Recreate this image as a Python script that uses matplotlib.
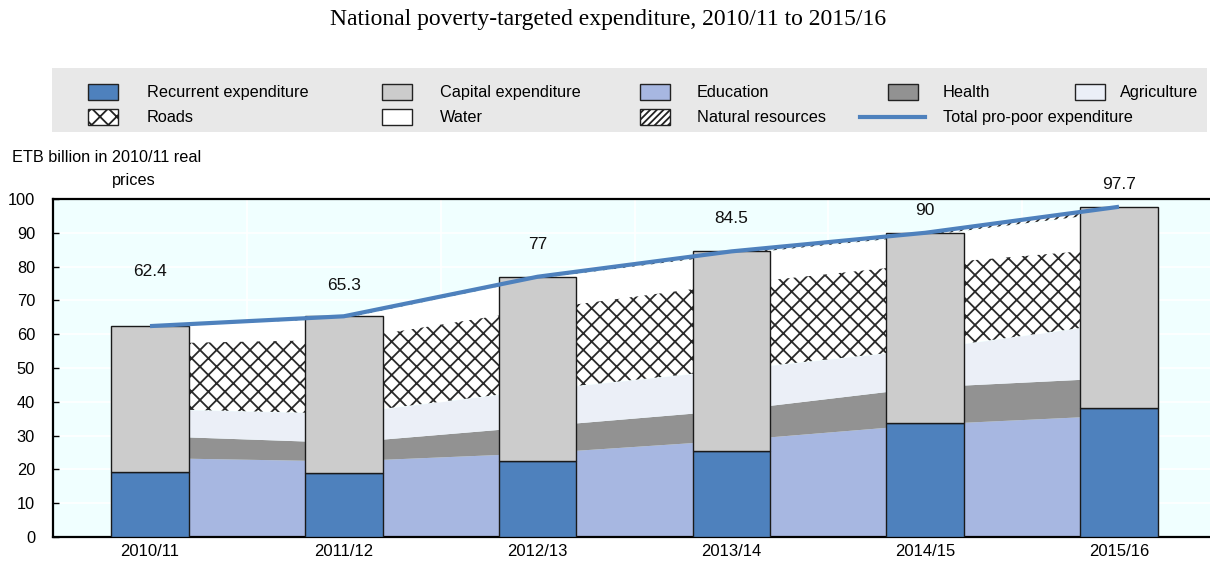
import matplotlib
matplotlib.use("Agg")
import matplotlib.pyplot as plt
import numpy as np
from matplotlib.patches import Rectangle
from matplotlib.lines import Line2D

plt.rcParams['font.family'] = ['Liberation Sans', 'DejaVu Sans']
plt.rcParams['hatch.linewidth'] = 1.3

# ---------------- data ----------------
years = ["2010/11", "2011/12", "2012/13", "2013/14", "2014/15", "2015/16"]
total = [62.4, 65.3, 77.0, 84.5, 90.0, 97.7]
recurrent = [19.2, 18.8, 22.6, 25.5, 33.8, 38.3]
capital = [t - r for t, r in zip(total, recurrent)]

education = [23.5, 22.5, 24.9, 28.7, 33.4, 36.1]
health = [6.5, 5.5, 7.9, 8.9, 11.0, 11.1]
agriculture = [7.9, 8.5, 10.7, 11.9, 11.2, 16.2]
roads = [19.5, 22.0, 24.0, 25.5, 25.3, 22.2]
natural_resources = [0.2, 0.6, 0.5, 0.9, 0.8, 1.5]
water = [t - e - h - a - r - n for t, e, h, a, r, n in
         zip(total, education, health, agriculture, roads, natural_resources)]

label_offsets_pt = [39.6, 22.3, 23.0, 23.8, 15.8, 15.8]

# ---------------- style ----------------
C_REC = '#4E81BD'
C_CAP = '#CCCCCC'
C_EDU = '#A7B7E1'
C_HEA = '#929292'
C_AGR = '#EBEFF7'
C_WHITE = '#FFFFFF'
C_HATCH = '#2A2A2A'
C_BG = '#F0FFFF'

fig = plt.figure(figsize=(12.10, 5.63), dpi=100)
ax = fig.add_axes([53.1 / 1210, 26 / 563, (1215.9 - 53.1) / 1210, 338 / 563])
ax.set_facecolor(C_BG)

x = np.arange(len(years))

# stacked areas between bars
layers = [
    (education, C_EDU, None, 'Education'),
    (health, C_HEA, None, 'Health'),
    (agriculture, C_AGR, None, 'Agriculture'),
    (roads, C_WHITE, 'xx', 'Roads'),
    (water, C_WHITE, None, 'Water'),
    (natural_resources, C_WHITE, '////', 'Natural resources'),
]
base = np.zeros(len(years))
for vals, col, hatch, name in layers:
    top = base + np.array(vals)
    ax.fill_between(x, base, top, facecolor=col, edgecolor=C_HATCH if hatch else col,
                    hatch=hatch, linewidth=0, zorder=2)
    base = top

# bars
bw = 0.4
ax.bar(x, recurrent, width=bw, color=C_REC, edgecolor='#1a1a1a', linewidth=1.0, zorder=3)
ax.bar(x, capital, width=bw, bottom=recurrent, color=C_CAP, edgecolor='#1a1a1a',
       linewidth=1.0, zorder=3)

# total line
ax.plot(x, total, color=C_REC, linewidth=3, zorder=4, solid_capstyle='butt')
for xi, v, off in zip(x, total, label_offsets_pt):
    ax.annotate(f"{v:g}", (xi, v), xytext=(0, off), textcoords='offset points',
                ha='center', va='center', fontsize=12.5, color='#111111', zorder=5)

# axes formatting
ax.set_xlim(-0.5, len(years) - 0.5)
ax.set_ylim(0, 100)
ax.set_yticks(np.arange(0, 101, 10))
ax.set_xticks(x)
ax.set_xticklabels(years, fontsize=12)
ax.set_xticks(x[:-1] + 0.5, minor=True)
ax.tick_params(axis='x', which='major', length=0, pad=5)
ax.tick_params(axis='x', which='minor', length=5, direction='in', width=1.2, color='#111111')
ax.tick_params(axis='y', which='major', length=4, direction='in', width=1, labelsize=11.8, pad=13)
ax.grid(axis='y', which='major', color='white', linewidth=1.2, zorder=0)
ax.grid(axis='x', which='minor', color='white', linewidth=1.2, zorder=0)
ax.set_axisbelow(True)
for s in ['top', 'left', 'bottom']:
    ax.spines[s].set_color('#000000')
    ax.spines[s].set_linewidth(1.6)
ax.spines['right'].set_visible(False)

# y axis label
fig.text(12 / 1210, 1 - 157 / 563, "ETB billion in 2010/11 real", fontsize=11.7,
         ha='left', va='center')
fig.text(112 / 1210, 1 - 181 / 563, "prices", fontsize=11.7, ha='left', va='center')

# title
fig.text(608 / 1210, 1 - 20 / 563, "National poverty-targeted expenditure, 2010/11 to 2015/16",
         fontsize=17, ha='center', va='center', family=['Liberation Serif', 'DejaVu Serif'])

# legend (manual, row-major)
W, H = 1210, 563
fig.patches.append(Rectangle((52 / W, 1 - 132 / H), 1155 / W, 64 / H, transform=fig.transFigure,
                             facecolor='#E8E8E8', edgecolor='none', zorder=0))
items = [
    ('Recurrent expenditure', C_REC, None, 88, 147, 92),
    ('Capital expenditure', C_CAP, None, 382, 440, 92),
    ('Education', C_EDU, None, 640, 697, 92),
    ('Health', C_HEA, None, 888, 943, 92),
    ('Agriculture', C_AGR, None, 1075, 1120, 92),
    ('Roads', C_WHITE, 'xx', 88, 147, 117),
    ('Water', C_WHITE, None, 382, 440, 117),
    ('Natural resources', C_WHITE, '/////', 640, 697, 117),
]
for name, col, hatch, hx, tx, ry in items:
    fig.patches.append(Rectangle((hx / W, 1 - (ry + 7.5) / H), 30 / W, 15 / H,
                                 transform=fig.transFigure, facecolor=col,
                                 edgecolor='#222222', hatch=hatch, linewidth=1.0, zorder=1))
    fig.text(tx / W, 1 - ry / H, name, fontsize=11.7, ha='left', va='center')
fig.lines.append(Line2D([860 / W, 925 / W], [1 - 117 / H, 1 - 117 / H], transform=fig.transFigure,
                        color=C_REC, linewidth=3))
fig.text(943 / W, 1 - 117 / H, 'Total pro-poor expenditure', fontsize=11.7, ha='left', va='center')

fig.savefig('out.png', dpi=100)
